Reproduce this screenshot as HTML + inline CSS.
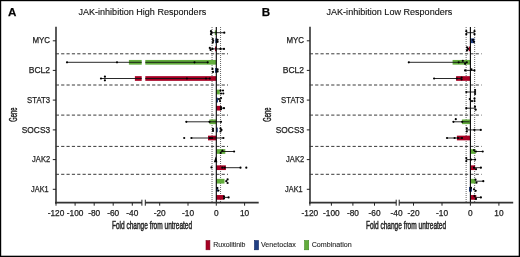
<!DOCTYPE html>
<html><head><meta charset="utf-8"><style>
html,body{margin:0;padding:0;background:#fff;}
svg{display:block;will-change:transform;font-family:"Liberation Sans",sans-serif;}
text{stroke:#222;stroke-width:0.25px;}
</style></head><body>
<svg width="520" height="257" viewBox="0 0 520 257">
<rect width="520" height="257" fill="#fff"/>
<text x="8.0" y="16.1" font-size="11.6" text-anchor="start" font-weight="bold" fill="#000" >A</text>
<text x="78.4" y="15.4" font-size="9.6" text-anchor="start" font-weight="normal" fill="#111" textLength="127.8" lengthAdjust="spacingAndGlyphs" style="stroke-width:0.12px;stroke:#111">JAK-inhibition High Responders</text>
<text x="0" y="0" font-size="10.2" fill="#222" textLength="14.2" lengthAdjust="spacingAndGlyphs" style="stroke-width:0.4px" transform="translate(16.5,121.8) rotate(-90)">Gene</text>
<line x1="55.8" y1="53.8" x2="228" y2="53.8" stroke="#3a3a3a" stroke-width="1" stroke-dasharray="3.2 2.15"/>
<line x1="55.8" y1="85.0" x2="228" y2="85.0" stroke="#3a3a3a" stroke-width="1" stroke-dasharray="3.2 2.15"/>
<line x1="55.8" y1="115.1" x2="228" y2="115.1" stroke="#3a3a3a" stroke-width="1" stroke-dasharray="3.2 2.15"/>
<line x1="55.8" y1="146.4" x2="228" y2="146.4" stroke="#3a3a3a" stroke-width="1" stroke-dasharray="3.2 2.15"/>
<line x1="55.8" y1="174.3" x2="228" y2="174.3" stroke="#3a3a3a" stroke-width="1" stroke-dasharray="3.2 2.15"/>
<line x1="212.04000000000002" y1="27" x2="212.04000000000002" y2="202.2" stroke="#555" stroke-width="0.9" stroke-dasharray="1 1"/>
<line x1="220.56" y1="27" x2="220.56" y2="202.2" stroke="#555" stroke-width="0.9" stroke-dasharray="1 1"/>
<rect x="214.8" y="30.349999999999994" width="1.5" height="4.7" fill="#62ac3c"/>
<line x1="211" y1="32.699999999999996" x2="224.4" y2="32.699999999999996" stroke="#111" stroke-width="0.9" />
<circle cx="211" cy="31.199999999999996" r="1.1" fill="#000"/>
<circle cx="211.5" cy="32.699999999999996" r="1.1" fill="#000"/>
<circle cx="211" cy="34.199999999999996" r="1.1" fill="#000"/>
<circle cx="224.3" cy="32.699999999999996" r="1.1" fill="#000"/>
<rect x="215.3" y="38.449999999999996" width="1.8999999999999773" height="4.7" fill="#203f84"/>
<circle cx="212.8" cy="39.0" r="1.1" fill="#000"/>
<circle cx="213.2" cy="40.8" r="1.1" fill="#000"/>
<circle cx="212.8" cy="42.599999999999994" r="1.1" fill="#000"/>
<circle cx="217.6" cy="39.8" r="1.1" fill="#000"/>
<circle cx="217.6" cy="41.8" r="1.1" fill="#000"/>
<rect x="215" y="46.55" width="1.3000000000000114" height="4.7" fill="#a70024"/>
<line x1="209.8" y1="48.9" x2="224" y2="48.9" stroke="#111" stroke-width="0.9" />
<circle cx="209.8" cy="47.9" r="1.1" fill="#000"/>
<circle cx="210.6" cy="49.9" r="1.1" fill="#000"/>
<circle cx="212.5" cy="48.9" r="1.1" fill="#000"/>
<circle cx="220.5" cy="48.9" r="1.1" fill="#000"/>
<circle cx="224" cy="48.9" r="1.1" fill="#000"/>
<rect x="128.9" y="59.95" width="12.799999999999983" height="4.7" fill="#62ac3c"/>
<rect x="145.3" y="59.95" width="71.0" height="4.7" fill="#62ac3c"/>
<line x1="67.0" y1="62.300000000000004" x2="141.7" y2="62.300000000000004" stroke="#111" stroke-width="0.9" />
<line x1="145.3" y1="62.300000000000004" x2="207.7" y2="62.300000000000004" stroke="#111" stroke-width="0.9" />
<circle cx="67.0" cy="62.300000000000004" r="1.1" fill="#000"/>
<circle cx="117" cy="62.300000000000004" r="1.1" fill="#000"/>
<circle cx="194.5" cy="62.300000000000004" r="1.1" fill="#000"/>
<circle cx="207.7" cy="62.300000000000004" r="1.1" fill="#000"/>
<rect x="215" y="68.05000000000001" width="2.3000000000000114" height="4.7" fill="#203f84"/>
<circle cx="212.5" cy="68.9" r="1.1" fill="#000"/>
<circle cx="213" cy="71.9" r="1.1" fill="#000"/>
<circle cx="217.6" cy="69.4" r="1.1" fill="#000"/>
<circle cx="217.6" cy="71.4" r="1.1" fill="#000"/>
<rect x="134.9" y="76.15" width="6.799999999999983" height="4.7" fill="#a70024"/>
<rect x="145.3" y="76.15" width="71.0" height="4.7" fill="#a70024"/>
<line x1="100.4" y1="78.5" x2="141.7" y2="78.5" stroke="#111" stroke-width="0.9" />
<line x1="145.3" y1="78.5" x2="210" y2="78.5" stroke="#111" stroke-width="0.9" />
<circle cx="101" cy="78.5" r="1.1" fill="#000"/>
<circle cx="104.9" cy="76.7" r="1.1" fill="#000"/>
<circle cx="104.9" cy="80.3" r="1.1" fill="#000"/>
<circle cx="186.9" cy="78.5" r="1.1" fill="#000"/>
<circle cx="206" cy="78.5" r="1.1" fill="#000"/>
<circle cx="209.8" cy="78.5" r="1.1" fill="#000"/>
<rect x="216.3" y="89.65" width="3.5" height="4.7" fill="#62ac3c"/>
<circle cx="220.5" cy="90.5" r="1.1" fill="#000"/>
<circle cx="221" cy="93.5" r="1.1" fill="#000"/>
<circle cx="223" cy="90.5" r="1.1" fill="#000"/>
<circle cx="223.3" cy="93.5" r="1.1" fill="#000"/>
<rect x="216.3" y="97.75" width="1.6999999999999886" height="4.7" fill="#203f84"/>
<circle cx="219" cy="99.1" r="1.1" fill="#000"/>
<circle cx="220" cy="101.1" r="1.1" fill="#000"/>
<circle cx="221" cy="98.1" r="1.1" fill="#000"/>
<rect x="216.3" y="105.85" width="4.699999999999989" height="4.7" fill="#a70024"/>
<line x1="221" y1="108.19999999999999" x2="224" y2="108.19999999999999" stroke="#111" stroke-width="0.9" />
<circle cx="221" cy="107.19999999999999" r="1.1" fill="#000"/>
<circle cx="221" cy="109.19999999999999" r="1.1" fill="#000"/>
<circle cx="224" cy="108.19999999999999" r="1.1" fill="#000"/>
<rect x="209.4" y="119.45000000000002" width="6.900000000000006" height="4.7" fill="#62ac3c"/>
<line x1="186.3" y1="121.80000000000001" x2="221" y2="121.80000000000001" stroke="#111" stroke-width="0.9" />
<circle cx="186.3" cy="121.80000000000001" r="1.1" fill="#000"/>
<circle cx="209.5" cy="121.80000000000001" r="1.1" fill="#000"/>
<circle cx="221" cy="121.80000000000001" r="1.1" fill="#000"/>
<rect x="216.3" y="127.55000000000001" width="1.5" height="4.7" fill="#203f84"/>
<circle cx="213" cy="128.9" r="1.1" fill="#000"/>
<circle cx="213" cy="130.9" r="1.1" fill="#000"/>
<circle cx="220.5" cy="128.4" r="1.1" fill="#000"/>
<circle cx="221.5" cy="129.9" r="1.1" fill="#000"/>
<circle cx="220.5" cy="131.4" r="1.1" fill="#000"/>
<rect x="208" y="135.65" width="8.300000000000011" height="4.7" fill="#a70024"/>
<line x1="191.4" y1="138.0" x2="223.4" y2="138.0" stroke="#111" stroke-width="0.9" />
<circle cx="184.2" cy="138.0" r="1.1" fill="#000"/>
<circle cx="191.4" cy="138.0" r="1.1" fill="#000"/>
<circle cx="210" cy="138.0" r="1.1" fill="#000"/>
<circle cx="212" cy="138.0" r="1.1" fill="#000"/>
<circle cx="223.4" cy="138.0" r="1.1" fill="#000"/>
<rect x="216.3" y="149.15" width="9.0" height="4.7" fill="#62ac3c"/>
<line x1="220.7" y1="151.5" x2="234.1" y2="151.5" stroke="#111" stroke-width="0.9" />
<circle cx="220.7" cy="153.0" r="1.1" fill="#000"/>
<circle cx="222.4" cy="150.5" r="1.1" fill="#000"/>
<circle cx="234.1" cy="151.5" r="1.1" fill="#000"/>
<polygon points="215.7,156.6 213.9,162.3 217.4,162.3" fill="#000"/>
<rect x="216.3" y="165.35" width="9.599999999999994" height="4.7" fill="#a70024"/>
<line x1="222.3" y1="167.7" x2="240.5" y2="167.7" stroke="#111" stroke-width="0.9" />
<circle cx="211.5" cy="167.39999999999998" r="1.1" fill="#000"/>
<circle cx="222.3" cy="167.7" r="1.1" fill="#000"/>
<circle cx="224.7" cy="167.7" r="1.1" fill="#000"/>
<circle cx="240.5" cy="167.7" r="1.1" fill="#000"/>
<circle cx="246.3" cy="167.7" r="1.1" fill="#000"/>
<rect x="216.3" y="178.85000000000002" width="8.199999999999989" height="4.7" fill="#62ac3c"/>
<circle cx="227.6" cy="179.4" r="1.1" fill="#000"/>
<circle cx="226.3" cy="181.20000000000002" r="1.1" fill="#000"/>
<circle cx="227.6" cy="183.00000000000003" r="1.1" fill="#000"/>
<rect x="216.3" y="186.95000000000002" width="1.5999999999999943" height="4.7" fill="#203f84"/>
<circle cx="217.4" cy="188.0" r="1.1" fill="#000"/>
<circle cx="218.4" cy="190.60000000000002" r="1.1" fill="#000"/>
<rect x="216.3" y="195.05" width="7.599999999999994" height="4.7" fill="#a70024"/>
<line x1="224" y1="197.4" x2="228.6" y2="197.4" stroke="#111" stroke-width="0.9" />
<circle cx="224" cy="196.4" r="1.1" fill="#000"/>
<circle cx="224" cy="198.4" r="1.1" fill="#000"/>
<circle cx="228.6" cy="197.4" r="1.1" fill="#000"/>
<line x1="216.3" y1="27" x2="216.3" y2="202.7" stroke="#000" stroke-width="1.1" />
<line x1="56.0" y1="26.8" x2="56.0" y2="203.5" stroke="#333" stroke-width="1.6" />
<line x1="52.8" y1="40.8" x2="56.0" y2="40.8" stroke="#222" stroke-width="1" />
<text x="50.1" y="43.0" font-size="8.6" text-anchor="end" font-weight="normal" fill="#222" textLength="17.6" lengthAdjust="spacingAndGlyphs" >MYC</text>
<line x1="52.8" y1="70.4" x2="56.0" y2="70.4" stroke="#222" stroke-width="1" />
<text x="50.1" y="73.10000000000001" font-size="8.6" text-anchor="end" font-weight="normal" fill="#222" textLength="21.4" lengthAdjust="spacingAndGlyphs" >BCL2</text>
<line x1="52.8" y1="100.1" x2="56.0" y2="100.1" stroke="#222" stroke-width="1" />
<text x="50.1" y="102.8" font-size="8.6" text-anchor="end" font-weight="normal" fill="#222" textLength="23.0" lengthAdjust="spacingAndGlyphs" >STAT3</text>
<line x1="52.8" y1="129.9" x2="56.0" y2="129.9" stroke="#222" stroke-width="1" />
<text x="50.1" y="132.6" font-size="8.6" text-anchor="end" font-weight="normal" fill="#222" textLength="28.3" lengthAdjust="spacingAndGlyphs" >SOCS3</text>
<line x1="52.8" y1="159.6" x2="56.0" y2="159.6" stroke="#222" stroke-width="1" />
<text x="50.1" y="162.29999999999998" font-size="8.6" text-anchor="end" font-weight="normal" fill="#222" textLength="18.0" lengthAdjust="spacingAndGlyphs" >JAK2</text>
<line x1="52.8" y1="189.3" x2="56.0" y2="189.3" stroke="#222" stroke-width="1" />
<text x="48.7" y="192.0" font-size="8.6" text-anchor="end" font-weight="normal" fill="#222" textLength="17.6" lengthAdjust="spacingAndGlyphs" >JAK1</text>
<line x1="55.0" y1="202.7" x2="141.9" y2="202.7" stroke="#333" stroke-width="1.7" />
<line x1="145.3" y1="202.7" x2="258.7" y2="202.7" stroke="#333" stroke-width="1.7" />
<line x1="141.9" y1="199.7" x2="141.9" y2="205.7" stroke="#222" stroke-width="1" />
<line x1="145.3" y1="199.7" x2="145.3" y2="205.7" stroke="#222" stroke-width="1" />
<line x1="56.0" y1="202.7" x2="56.0" y2="205.7" stroke="#222" stroke-width="1" />
<line x1="75.1" y1="202.7" x2="75.1" y2="205.7" stroke="#222" stroke-width="1" />
<line x1="94.2" y1="202.7" x2="94.2" y2="205.7" stroke="#222" stroke-width="1" />
<line x1="113.2" y1="202.7" x2="113.2" y2="205.7" stroke="#222" stroke-width="1" />
<line x1="132.3" y1="202.7" x2="132.3" y2="205.7" stroke="#222" stroke-width="1" />
<line x1="159.7" y1="202.7" x2="159.7" y2="205.7" stroke="#222" stroke-width="1" />
<line x1="188.0" y1="202.7" x2="188.0" y2="205.7" stroke="#222" stroke-width="1" />
<line x1="216.3" y1="202.7" x2="216.3" y2="205.7" stroke="#222" stroke-width="1" />
<line x1="244.6" y1="202.7" x2="244.6" y2="205.7" stroke="#222" stroke-width="1" />
<text x="56.0" y="215.9" font-size="8.3" text-anchor="middle" font-weight="normal" fill="#222" >-120</text>
<text x="75.1" y="215.9" font-size="8.3" text-anchor="middle" font-weight="normal" fill="#222" >-100</text>
<text x="94.2" y="215.9" font-size="8.3" text-anchor="middle" font-weight="normal" fill="#222" >-80</text>
<text x="113.2" y="215.9" font-size="8.3" text-anchor="middle" font-weight="normal" fill="#222" >-60</text>
<text x="132.3" y="215.9" font-size="8.3" text-anchor="middle" font-weight="normal" fill="#222" >-40</text>
<text x="159.7" y="215.9" font-size="8.3" text-anchor="middle" font-weight="normal" fill="#222" >-20</text>
<text x="188.0" y="215.9" font-size="8.3" text-anchor="middle" font-weight="normal" fill="#222" >-10</text>
<text x="216.3" y="215.9" font-size="8.3" text-anchor="middle" font-weight="normal" fill="#222" >0</text>
<text x="244.6" y="215.9" font-size="8.3" text-anchor="middle" font-weight="normal" fill="#222" >10</text>
<text x="111.9" y="228.6" font-size="10.4" text-anchor="start" font-weight="normal" fill="#222" textLength="80.2" lengthAdjust="spacingAndGlyphs" style="stroke-width:0.45px">Fold change from untreated</text>
<text x="261.7" y="16.1" font-size="11.6" text-anchor="start" font-weight="bold" fill="#000" >B</text>
<text x="326.5" y="15.4" font-size="9.6" text-anchor="start" font-weight="normal" fill="#111" textLength="125.8" lengthAdjust="spacingAndGlyphs" style="stroke-width:0.12px;stroke:#111">JAK-inhibition Low Responders</text>
<text x="0" y="0" font-size="10.2" fill="#222" textLength="14.2" lengthAdjust="spacingAndGlyphs" style="stroke-width:0.4px" transform="translate(270.5,121.8) rotate(-90)">Gene</text>
<line x1="309.8" y1="53.8" x2="481.6" y2="53.8" stroke="#3a3a3a" stroke-width="1" stroke-dasharray="3.2 2.15"/>
<line x1="309.8" y1="85.0" x2="481.6" y2="85.0" stroke="#3a3a3a" stroke-width="1" stroke-dasharray="3.2 2.15"/>
<line x1="309.8" y1="115.1" x2="481.6" y2="115.1" stroke="#3a3a3a" stroke-width="1" stroke-dasharray="3.2 2.15"/>
<line x1="309.8" y1="146.4" x2="481.6" y2="146.4" stroke="#3a3a3a" stroke-width="1" stroke-dasharray="3.2 2.15"/>
<line x1="309.8" y1="174.3" x2="481.6" y2="174.3" stroke="#3a3a3a" stroke-width="1" stroke-dasharray="3.2 2.15"/>
<line x1="466.14" y1="27" x2="466.14" y2="202.2" stroke="#555" stroke-width="0.9" stroke-dasharray="1 1"/>
<line x1="474.65999999999997" y1="27" x2="474.65999999999997" y2="202.2" stroke="#555" stroke-width="0.9" stroke-dasharray="1 1"/>
<line x1="466.3" y1="32.699999999999996" x2="474.5" y2="32.699999999999996" stroke="#111" stroke-width="0.9" />
<circle cx="466.3" cy="31.199999999999996" r="1.1" fill="#000"/>
<circle cx="466.3" cy="34.199999999999996" r="1.1" fill="#000"/>
<circle cx="474.5" cy="31.199999999999996" r="1.1" fill="#000"/>
<circle cx="474.5" cy="34.199999999999996" r="1.1" fill="#000"/>
<rect x="470.4" y="38.449999999999996" width="4.100000000000023" height="4.7" fill="#203f84"/>
<circle cx="473" cy="39.8" r="1.1" fill="#000"/>
<circle cx="474" cy="41.8" r="1.1" fill="#000"/>
<rect x="468.7" y="46.55" width="1.6999999999999886" height="4.7" fill="#a70024"/>
<circle cx="467" cy="47.4" r="1.1" fill="#000"/>
<circle cx="467" cy="50.4" r="1.1" fill="#000"/>
<circle cx="468" cy="48.9" r="1.1" fill="#000"/>
<rect x="452.6" y="59.95" width="17.799999999999955" height="4.7" fill="#62ac3c"/>
<line x1="408.8" y1="62.300000000000004" x2="466.8" y2="62.300000000000004" stroke="#111" stroke-width="0.9" />
<circle cx="408.8" cy="62.300000000000004" r="1.1" fill="#000"/>
<circle cx="458.7" cy="62.300000000000004" r="1.1" fill="#000"/>
<circle cx="462.8" cy="60.800000000000004" r="1.1" fill="#000"/>
<circle cx="465.1" cy="63.800000000000004" r="1.1" fill="#000"/>
<circle cx="466.8" cy="62.300000000000004" r="1.1" fill="#000"/>
<line x1="465.1" y1="70.4" x2="474.4" y2="70.4" stroke="#111" stroke-width="0.9" />
<circle cx="465.1" cy="70.4" r="1.1" fill="#000"/>
<circle cx="471.5" cy="69.4" r="1.1" fill="#000"/>
<circle cx="474.4" cy="70.4" r="1.1" fill="#000"/>
<rect x="456.1" y="76.15" width="14.299999999999955" height="4.7" fill="#a70024"/>
<line x1="434.1" y1="78.5" x2="461.6" y2="78.5" stroke="#111" stroke-width="0.9" />
<circle cx="434.1" cy="78.5" r="1.1" fill="#000"/>
<circle cx="456.8" cy="78.5" r="1.1" fill="#000"/>
<circle cx="461.6" cy="77.5" r="1.1" fill="#000"/>
<circle cx="461.6" cy="79.5" r="1.1" fill="#000"/>
<line x1="466.3" y1="92.0" x2="475.1" y2="92.0" stroke="#111" stroke-width="0.9" />
<circle cx="466.3" cy="92.0" r="1.1" fill="#000"/>
<circle cx="475.1" cy="90.0" r="1.1" fill="#000"/>
<circle cx="475.1" cy="92.0" r="1.1" fill="#000"/>
<circle cx="475.1" cy="94.0" r="1.1" fill="#000"/>
<circle cx="469.8" cy="99.1" r="1.1" fill="#000"/>
<circle cx="472" cy="101.1" r="1.1" fill="#000"/>
<circle cx="474.5" cy="98.6" r="1.1" fill="#000"/>
<circle cx="474.5" cy="101.1" r="1.1" fill="#000"/>
<line x1="466.3" y1="108.19999999999999" x2="475.7" y2="108.19999999999999" stroke="#111" stroke-width="0.9" />
<circle cx="466.3" cy="108.19999999999999" r="1.1" fill="#000"/>
<circle cx="475" cy="106.69999999999999" r="1.1" fill="#000"/>
<circle cx="475.7" cy="109.69999999999999" r="1.1" fill="#000"/>
<rect x="461.9" y="119.45000000000002" width="8.5" height="4.7" fill="#62ac3c"/>
<line x1="453.4" y1="121.80000000000001" x2="469.5" y2="121.80000000000001" stroke="#111" stroke-width="0.9" />
<circle cx="453.4" cy="121.80000000000001" r="1.1" fill="#000"/>
<circle cx="455.8" cy="119.20000000000002" r="1.1" fill="#000"/>
<circle cx="462.2" cy="121.80000000000001" r="1.1" fill="#000"/>
<line x1="466.3" y1="129.9" x2="480.8" y2="129.9" stroke="#111" stroke-width="0.9" />
<circle cx="466.8" cy="128.4" r="1.1" fill="#000"/>
<circle cx="466.8" cy="131.4" r="1.1" fill="#000"/>
<circle cx="474.4" cy="129.9" r="1.1" fill="#000"/>
<circle cx="480.8" cy="129.9" r="1.1" fill="#000"/>
<rect x="456.9" y="135.65" width="13.5" height="4.7" fill="#a70024"/>
<line x1="447" y1="138.0" x2="462" y2="138.0" stroke="#111" stroke-width="0.9" />
<circle cx="447" cy="138.0" r="1.1" fill="#000"/>
<circle cx="454.6" cy="138.0" r="1.1" fill="#000"/>
<circle cx="458" cy="138.0" r="1.1" fill="#000"/>
<circle cx="462" cy="138.0" r="1.1" fill="#000"/>
<rect x="470.4" y="149.15" width="5.300000000000011" height="4.7" fill="#62ac3c"/>
<line x1="474" y1="151.5" x2="482.7" y2="151.5" stroke="#111" stroke-width="0.9" />
<circle cx="474" cy="150.0" r="1.1" fill="#000"/>
<circle cx="476" cy="151.5" r="1.1" fill="#000"/>
<circle cx="482.7" cy="151.5" r="1.1" fill="#000"/>
<line x1="466.3" y1="159.6" x2="475.1" y2="159.6" stroke="#111" stroke-width="0.9" />
<circle cx="466.3" cy="158.1" r="1.1" fill="#000"/>
<circle cx="466.3" cy="161.1" r="1.1" fill="#000"/>
<circle cx="471" cy="159.6" r="1.1" fill="#000"/>
<circle cx="475.1" cy="159.6" r="1.1" fill="#000"/>
<rect x="470.4" y="165.35" width="4.7000000000000455" height="4.7" fill="#a70024"/>
<line x1="474" y1="167.7" x2="480.9" y2="167.7" stroke="#111" stroke-width="0.9" />
<circle cx="474" cy="167.7" r="1.1" fill="#000"/>
<circle cx="476" cy="169.2" r="1.1" fill="#000"/>
<circle cx="480.9" cy="167.7" r="1.1" fill="#000"/>
<rect x="470.4" y="178.85000000000002" width="5.300000000000011" height="4.7" fill="#62ac3c"/>
<line x1="475.5" y1="181.20000000000002" x2="483.3" y2="181.20000000000002" stroke="#111" stroke-width="0.9" />
<circle cx="475.5" cy="179.70000000000002" r="1.1" fill="#000"/>
<circle cx="476.5" cy="182.70000000000002" r="1.1" fill="#000"/>
<circle cx="483.3" cy="181.20000000000002" r="1.1" fill="#000"/>
<rect x="469" y="186.95000000000002" width="3" height="4.7" fill="#203f84"/>
<circle cx="471" cy="187.8" r="1.1" fill="#000"/>
<circle cx="474" cy="189.3" r="1.1" fill="#000"/>
<circle cx="475.7" cy="190.8" r="1.1" fill="#000"/>
<rect x="470.4" y="195.05" width="5.900000000000034" height="4.7" fill="#a70024"/>
<line x1="474.5" y1="197.4" x2="480.9" y2="197.4" stroke="#111" stroke-width="0.9" />
<circle cx="474.5" cy="195.9" r="1.1" fill="#000"/>
<circle cx="476" cy="198.9" r="1.1" fill="#000"/>
<circle cx="480.9" cy="197.4" r="1.1" fill="#000"/>
<line x1="470.4" y1="27" x2="470.4" y2="202.7" stroke="#000" stroke-width="1.1" />
<line x1="310.0" y1="26.8" x2="310.0" y2="203.5" stroke="#333" stroke-width="1.6" />
<line x1="306.8" y1="40.8" x2="310.0" y2="40.8" stroke="#222" stroke-width="1" />
<text x="304.1" y="43.0" font-size="8.6" text-anchor="end" font-weight="normal" fill="#222" textLength="17.6" lengthAdjust="spacingAndGlyphs" >MYC</text>
<line x1="306.8" y1="70.4" x2="310.0" y2="70.4" stroke="#222" stroke-width="1" />
<text x="304.1" y="73.10000000000001" font-size="8.6" text-anchor="end" font-weight="normal" fill="#222" textLength="21.4" lengthAdjust="spacingAndGlyphs" >BCL2</text>
<line x1="306.8" y1="100.1" x2="310.0" y2="100.1" stroke="#222" stroke-width="1" />
<text x="304.1" y="102.8" font-size="8.6" text-anchor="end" font-weight="normal" fill="#222" textLength="23.0" lengthAdjust="spacingAndGlyphs" >STAT3</text>
<line x1="306.8" y1="129.9" x2="310.0" y2="129.9" stroke="#222" stroke-width="1" />
<text x="304.1" y="132.6" font-size="8.6" text-anchor="end" font-weight="normal" fill="#222" textLength="28.3" lengthAdjust="spacingAndGlyphs" >SOCS3</text>
<line x1="306.8" y1="159.6" x2="310.0" y2="159.6" stroke="#222" stroke-width="1" />
<text x="304.1" y="162.29999999999998" font-size="8.6" text-anchor="end" font-weight="normal" fill="#222" textLength="18.0" lengthAdjust="spacingAndGlyphs" >JAK2</text>
<line x1="306.8" y1="189.3" x2="310.0" y2="189.3" stroke="#222" stroke-width="1" />
<text x="302.7" y="192.0" font-size="8.6" text-anchor="end" font-weight="normal" fill="#222" textLength="17.6" lengthAdjust="spacingAndGlyphs" >JAK1</text>
<line x1="309.0" y1="202.7" x2="396.2" y2="202.7" stroke="#333" stroke-width="1.7" />
<line x1="399.2" y1="202.7" x2="513.2" y2="202.7" stroke="#333" stroke-width="1.7" />
<line x1="396.2" y1="199.7" x2="396.2" y2="205.7" stroke="#222" stroke-width="1" />
<line x1="399.2" y1="199.7" x2="399.2" y2="205.7" stroke="#222" stroke-width="1" />
<line x1="309.9" y1="202.7" x2="309.9" y2="205.7" stroke="#222" stroke-width="1" />
<line x1="331.4" y1="202.7" x2="331.4" y2="205.7" stroke="#222" stroke-width="1" />
<line x1="352.9" y1="202.7" x2="352.9" y2="205.7" stroke="#222" stroke-width="1" />
<line x1="374.5" y1="202.7" x2="374.5" y2="205.7" stroke="#222" stroke-width="1" />
<line x1="413.5" y1="202.7" x2="413.5" y2="205.7" stroke="#222" stroke-width="1" />
<line x1="442.0" y1="202.7" x2="442.0" y2="205.7" stroke="#222" stroke-width="1" />
<line x1="470.4" y1="202.7" x2="470.4" y2="205.7" stroke="#222" stroke-width="1" />
<line x1="498.9" y1="202.7" x2="498.9" y2="205.7" stroke="#222" stroke-width="1" />
<text x="309.9" y="215.9" font-size="8.3" text-anchor="middle" font-weight="normal" fill="#222" >-120</text>
<text x="331.4" y="215.9" font-size="8.3" text-anchor="middle" font-weight="normal" fill="#222" >-100</text>
<text x="352.9" y="215.9" font-size="8.3" text-anchor="middle" font-weight="normal" fill="#222" >-80</text>
<text x="374.5" y="215.9" font-size="8.3" text-anchor="middle" font-weight="normal" fill="#222" >-60</text>
<text x="396.6" y="215.9" font-size="8.3" text-anchor="middle" font-weight="normal" fill="#222" >-40</text>
<text x="413.5" y="215.9" font-size="8.3" text-anchor="middle" font-weight="normal" fill="#222" >-20</text>
<text x="442.0" y="215.9" font-size="8.3" text-anchor="middle" font-weight="normal" fill="#222" >-10</text>
<text x="470.4" y="215.9" font-size="8.3" text-anchor="middle" font-weight="normal" fill="#222" >0</text>
<text x="498.9" y="215.9" font-size="8.3" text-anchor="middle" font-weight="normal" fill="#222" >10</text>
<text x="365.9" y="228.6" font-size="10.4" text-anchor="start" font-weight="normal" fill="#222" textLength="80.2" lengthAdjust="spacingAndGlyphs" style="stroke-width:0.45px">Fold change from untreated</text>
<rect x="206.0" y="240.6" width="3.9" height="9.2" fill="#a70024" stroke="#80001c" stroke-width="0.6"/>
<text x="213.3" y="247.3" font-size="7.6" text-anchor="start" font-weight="normal" fill="#222" textLength="32.2" lengthAdjust="spacingAndGlyphs" style="stroke-width:0.1px">Ruxolitinib</text>
<rect x="254.5" y="240.6" width="4.0" height="9.2" fill="#203f84" stroke="#0c2260" stroke-width="0.6"/>
<text x="261.0" y="247.3" font-size="7.6" text-anchor="start" font-weight="normal" fill="#222" textLength="34.8" lengthAdjust="spacingAndGlyphs" style="stroke-width:0.1px">Venetoclax</text>
<rect x="304.6" y="240.6" width="4.1" height="9.2" fill="#62ac3c" stroke="#3e8a22" stroke-width="0.6"/>
<text x="311.7" y="247.3" font-size="7.6" text-anchor="start" font-weight="normal" fill="#222" textLength="40.0" lengthAdjust="spacingAndGlyphs" style="stroke-width:0.1px">Combination</text>
<rect x="0" y="0" width="520" height="1.2" fill="#000"/>
<rect x="0" y="0" width="1.2" height="257" fill="#000"/>
<rect x="518.7" y="0" width="1.3" height="257" fill="#000"/>
<rect x="0" y="255.7" width="520" height="1.3" fill="#000"/>
</svg>
</body></html>
